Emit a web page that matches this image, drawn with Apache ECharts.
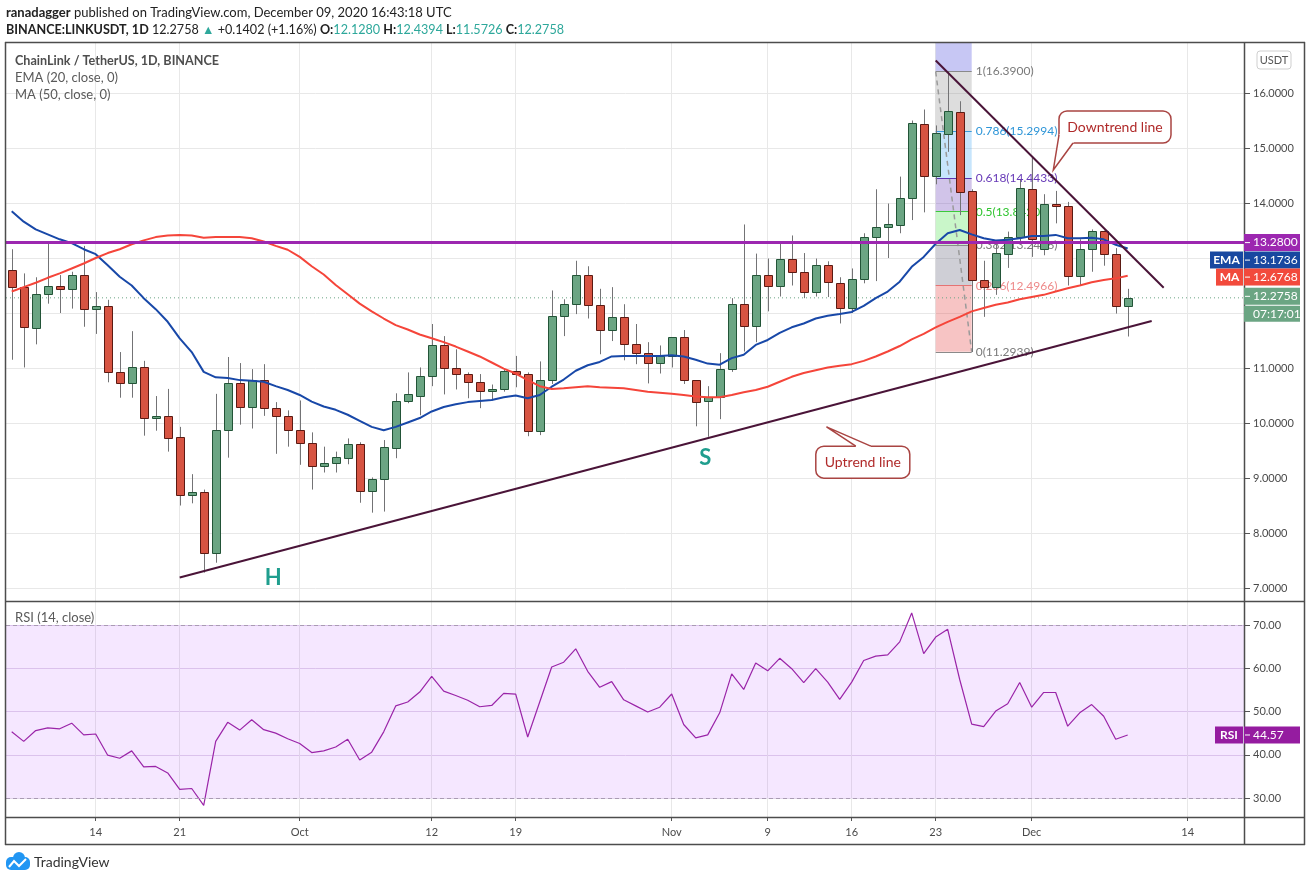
<!DOCTYPE html>
<html lang="en">
<head>
<meta charset="UTF-8">
<title>ChainLink / TetherUS, 1D</title>
<script src="https://cdn.jsdelivr.net/npm/echarts@6/dist/echarts.min.js"></script>
<style>
html, body { margin: 0; padding: 0; background: #fff; }
#chart { width: 1311px; height: 881px; }
</style>
</head>
<body>
<div id="chart"></div>
<script>
// daily candles, 2020-09-07 .. 2020-12-09
var startDate = '2020-09-07';
var opens = [12.79, 12.47, 11.72, 12.34, 12.49, 12.43, 12.70, 12.07, 12.12, 10.92, 10.72, 11.01, 10.09, 10.12, 9.74, 8.70, 8.74, 7.63, 9.87, 10.72, 10.30, 10.79, 10.27, 10.12,
  9.87, 9.63, 9.21, 9.27, 9.37, 9.62, 8.76, 8.98, 9.54, 10.40, 10.50, 10.85, 11.41, 11.00, 10.89, 10.74, 10.58, 10.61, 10.94, 10.90, 9.85, 10.78, 11.94, 12.16, 12.69, 12.14, 11.70, 11.92, 11.43, 11.27, 11.09,
  11.21, 11.56, 10.78, 10.40, 10.47, 10.98, 12.16, 11.76, 12.70, 12.50, 12.99, 12.74, 12.39, 12.87, 12.54, 12.10, 12.61, 13.39, 13.56, 13.60, 14.09, 15.43, 14.50, 15.25, 15.65, 14.21, 12.60, 12.48, 13.07, 13.38,
  14.25, 13.16, 13.98, 13.95, 12.67, 13.16, 13.50, 13.07, 12.128];
var closes = [12.47, 11.74, 12.34, 12.49, 12.43, 12.70, 12.07, 12.12, 10.92, 10.72, 11.01, 10.09, 10.12, 9.72, 8.70, 8.74, 7.63, 9.87, 10.72, 10.30, 10.79, 10.28, 10.12, 9.87,
  9.63, 9.21, 9.27, 9.39, 9.61, 8.76, 8.98, 9.56, 10.40, 10.52, 10.85, 11.41, 11.00, 10.89, 10.74, 10.58, 10.61, 10.94, 10.90, 9.85, 10.78, 11.94, 12.16, 12.69, 12.14, 11.70, 11.92, 11.43, 11.27, 11.09, 11.21,
  11.56, 10.78, 10.38, 10.47, 10.98, 12.16, 11.76, 12.70, 12.50, 12.99, 12.74, 12.39, 12.87, 12.56, 12.10, 12.61, 13.39, 13.56, 13.61, 14.09, 15.45, 14.50, 15.27, 15.67, 14.20, 12.60, 12.48, 13.09, 13.38, 14.27,
  13.34, 13.98, 13.95, 12.67, 13.16, 13.50, 13.07, 12.12, 12.2758];
var highs = [13.16, 12.72, 12.65, 13.28, 12.69, 12.75, 13.22, 12.38, 12.24, 11.29, 11.67, 11.13, 10.49, 10.62, 9.93, 9.07, 8.79, 10.53, 11.20, 11.09, 10.98, 11.07, 10.38, 10.23,
  10.41, 9.83, 9.57, 9.48, 9.72, 9.65, 9.01, 9.69, 10.54, 10.92, 11.01, 11.80, 11.58, 11.34, 10.92, 10.89, 10.70, 10.98, 11.22, 10.92, 11.12, 12.41, 12.25, 12.95, 12.85, 12.44, 12.47, 12.16, 11.80, 11.47, 11.41,
  11.56, 11.69, 10.78, 10.67, 11.27, 12.27, 13.61, 13.08, 12.99, 13.27, 13.41, 13.09, 12.99, 12.94, 12.65, 12.81, 13.45, 14.25, 13.99, 14.48, 15.50, 15.70, 15.41, 16.39, 15.85, 14.25, 12.95, 13.25, 13.48, 14.42,
  14.83, 14.16, 14.22, 14.02, 13.34, 13.52, 13.50, 13.18, 12.4394];
var lows = [11.15, 11.01, 11.43, 12.17, 12.00, 12.08, 11.75, 11.62, 10.74, 10.46, 10.46, 9.77, 9.86, 9.48, 8.50, 8.54, 7.28, 7.46, 9.37, 9.97, 9.90, 10.13, 9.44, 9.57,
  9.24, 8.79, 9.10, 9.10, 9.25, 8.55, 8.37, 8.39, 9.36, 10.36, 10.14, 10.67, 10.52, 10.61, 10.45, 10.27, 10.41, 10.57, 10.65, 9.76, 9.78, 10.71, 11.58, 11.98, 11.90, 11.25, 11.49, 11.14, 11.07, 10.72, 10.90,
  11.01, 10.71, 9.94, 9.75, 10.07, 10.93, 11.30, 11.47, 12.03, 12.30, 12.50, 12.27, 12.30, 12.29, 11.81, 12.00, 12.54, 12.58, 13.00, 13.45, 13.69, 13.83, 14.34, 14.93, 13.78, 11.29, 11.93, 12.33, 12.82, 13.30,
  13.02, 13.05, 13.63, 12.50, 12.50, 12.75, 12.86, 11.99, 11.5726];
// EMA (20, close) and MA (50, close)
var ema20 = [13.85, 13.66, 13.52, 13.43, 13.34, 13.27, 13.16, 13.07, 12.87, 12.66, 12.50, 12.27, 12.07, 11.84, 11.54, 11.29, 10.93, 10.83, 10.82, 10.78, 10.77, 10.75, 10.67, 10.60,
  10.51, 10.39, 10.30, 10.24, 10.15, 10.04, 9.93, 9.87, 9.93, 10.01, 10.09, 10.21, 10.29, 10.34, 10.38, 10.40, 10.42, 10.47, 10.50, 10.45, 10.51, 10.66, 10.79, 10.95, 11.05, 11.11, 11.21, 11.22, 11.22, 11.22, 11.22,
  11.23, 11.21, 11.15, 11.08, 11.06, 11.18, 11.24, 11.42, 11.51, 11.64, 11.74, 11.81, 11.90, 11.95, 11.98, 12.02, 12.13, 12.27, 12.39, 12.57, 12.84, 13.02, 13.26, 13.45, 13.51, 13.43, 13.36, 13.32, 13.33, 13.36,
  13.40, 13.40, 13.42, 13.36, 13.36, 13.37, 13.34, 13.24, 13.1736];
var ma50 = [12.39, 12.47, 12.55, 12.64, 12.72, 12.81, 12.90, 13.00, 13.09, 13.16, 13.25, 13.32, 13.38, 13.41, 13.42, 13.41, 13.37, 13.38, 13.38, 13.38, 13.36, 13.30, 13.22, 13.15,
  13.02, 12.85, 12.70, 12.51, 12.34, 12.17, 12.03, 11.90, 11.78, 11.70, 11.61, 11.54, 11.47, 11.39, 11.30, 11.21, 11.10, 10.99, 10.90, 10.78, 10.67, 10.62, 10.63, 10.65, 10.67, 10.65, 10.64, 10.63, 10.60, 10.57, 10.55,
  10.53, 10.51, 10.48, 10.47, 10.47, 10.51, 10.56, 10.60, 10.66, 10.75, 10.84, 10.91, 10.96, 11.01, 11.04, 11.07, 11.13, 11.21, 11.30, 11.40, 11.52, 11.62, 11.74, 11.84, 11.93, 12.03, 12.09, 12.15, 12.19, 12.25,
  12.29, 12.33, 12.39, 12.45, 12.50, 12.56, 12.60, 12.63, 12.6768];
// RSI (14, close)
var rsi14 = [45.3, 43.1, 45.6, 46.2, 46.0, 47.3, 44.6, 44.8, 39.9, 39.2, 40.9, 37.2, 37.3, 35.8, 32.0, 32.2, 28.3, 43.1, 47.5, 45.7, 48.1, 45.8, 45.0, 43.7,
  42.6, 40.5, 40.9, 41.8, 43.6, 38.8, 40.6, 45.3, 51.3, 52.2, 54.5, 58.1, 54.7, 53.7, 52.6, 51.1, 51.4, 54.2, 54.0, 44.1, 52.2, 60.3, 61.4, 64.5, 59.3, 55.6, 56.9, 52.7, 51.3, 49.9, 51.0,
  54.05, 47.0, 43.9, 44.6, 49.7, 58.7, 55.1, 61.2, 59.4, 62.3, 59.9, 56.7, 59.9, 56.8, 52.8, 56.8, 61.8, 62.8, 63.1, 66.1, 72.8, 63.4, 67.2, 69.0, 57.4, 47.1, 46.5, 50.1, 51.8, 56.7,
  51.0, 54.4, 54.4, 46.6, 49.7, 51.6, 48.9, 43.6, 44.57];

var xTickDates = ['2020-09-14', '2020-09-21', '2020-10-01', '2020-10-12', '2020-10-19', '2020-11-01', '2020-11-09', '2020-11-16', '2020-11-23', '2020-12-01', '2020-12-14'];
var xTickLabels = ['14', '21', 'Oct', '12', '19', 'Nov', '9', '16', '23', 'Dec', '14'];
var priceTicks = [7, 8, 9, 10, 11, 12, 13, 14, 15, 16];
var rsiTicks = [30, 40, 50, 60, 70];

// drawings
var resistance = 13.28;
var uptrend = [['2020-09-21', 7.19], ['2020-12-11', 11.855]];
var downtrend = [['2020-11-23', 16.59], ['2020-12-12', 12.46]];
var fibFrom = '2020-11-23', fibTo = '2020-11-26';
var fibRatios = ['1', '0.786', '0.618', '0.5', '0.382', '0.236', '0'];
var fibPrices = [16.39, 15.2994, 14.4433, 13.8420, 13.2406, 12.4966, 11.2939];
var lastPrice = 12.2758, lastEma = 13.1736, lastMa = 12.6768, lastRsi = 44.57;

var FONT = 'Lato, "Noto Sans", sans-serif';
var xMin = -0.475, xMax = 102.775;
var yMin = 6.764, yMax = 16.909;
var rMin = 25.61, rMax = 75.32;

var t0 = Date.UTC(2020, 8, 7);
function dayIndex(s) {
  var a = s.split('-');
  return (Date.UTC(+a[0], +a[1] - 1, +a[2]) - t0) / 86400000;
}
var tickIdx = xTickDates.map(dayIndex);
var candleData = opens.map(function (o, i) { return [i, o, closes[i], lows[i], highs[i]]; });
var emaData = ema20.map(function (v, i) { return [i, v]; });
var maData = ma50.map(function (v, i) { return [i, v]; });
var rsiData = rsi14.map(function (v, i) { return [i, v]; });
var f0 = dayIndex(fibFrom), f1 = dayIndex(fibTo);

var fibLine = ['#8a8a8a', '#3a9ad9', '#5e35b1', '#3cc83c', '#8a8a8a', '#e57373', '#8a8a8a'];
var fibText = ['#7a7a7a', '#2f96d8', '#673ab7', '#2fc42f', '#7a7a7a', '#ee8a8a', '#7a7a7a'];
var fibFill = ['rgba(120,120,120,0.25)', 'rgba(33,150,243,0.25)', 'rgba(103,58,183,0.3)', 'rgba(40,220,40,0.25)', 'rgba(110,110,130,0.33)', 'rgba(230,60,60,0.3)'];

var fibAreas = [[{ coord: [f0, fibPrices[0]], itemStyle: { color: 'rgba(70,70,220,0.3)' } }, { coord: [f1, yMax] }]];
for (var k = 0; k < fibPrices.length - 1; k++) {
  fibAreas.push([{ coord: [f0, fibPrices[k]], itemStyle: { color: fibFill[k] } }, { coord: [f1, fibPrices[k + 1]] }]);
}
var fibLevels = fibPrices.map(function (p, k) {
  return [{ coord: [f0, p], lineStyle: { color: fibLine[k] },
            label: { color: fibText[k], formatter: fibRatios[k] + '(' + p.toFixed(4) + ')' } },
          { coord: [f1, p] }];
});

function renderCandle(params, api) {
  var x = api.value(0), o = api.value(1), c = api.value(2), l = api.value(3), h = api.value(4);
  var pO = api.coord([x, o]), pC = api.coord([x, c]);
  var pL = api.coord([x, l]), pH = api.coord([x, h]);
  var up = c >= o;
  var xc = Math.round(pO[0]) + 0.5;
  var top = Math.round(Math.min(pO[1], pC[1])) + 0.5;
  var bot = Math.round(Math.max(pO[1], pC[1])) + 0.5;
  if (bot - top < 1) bot = top + 1;
  return {
    type: 'group',
    children: [
      { type: 'line', shape: { x1: xc, y1: pH[1], x2: xc, y2: pL[1] }, style: { stroke: '#737375', lineWidth: 1 } },
      { type: 'rect', shape: { x: xc - 4, y: top, width: 8, height: bot - top },
        style: { fill: up ? '#6ba583' : '#d75442', stroke: up ? '#225437' : '#5b1a13', lineWidth: 1 } }
    ]
  };
}

var gridLine = { show: true, lineStyle: { color: '#e8e8e8', width: 1 } };
var labelStyle = { color: '#4a4a4a', fontSize: 11, fontFamily: FONT };
var noLine = { show: false, onZero: false };

var chart = echarts.init(document.getElementById('chart'));
var option = {
  animation: false,
  backgroundColor: '#fff',
  grid: [
    { left: 6, right: 66, top: 43, height: 558 },
    { left: 6, right: 66, top: 602, height: 215 }
  ],
  xAxis: [
    { type: 'value', gridIndex: 0, min: xMin, max: xMax,
      axisLine: noLine, axisTick: { show: false, customValues: tickIdx },
      axisLabel: { show: false, customValues: tickIdx }, splitLine: gridLine },
    { type: 'value', gridIndex: 1, min: xMin, max: xMax,
      axisLine: noLine,
      axisTick: { show: true, length: 4, customValues: tickIdx, lineStyle: { color: '#555' } },
      axisLabel: Object.assign({ customValues: tickIdx, margin: 10,
        formatter: function (v) { var k = tickIdx.indexOf(Math.round(v)); return k >= 0 ? xTickLabels[k] : ''; } }, labelStyle),
      splitLine: gridLine }
  ],
  yAxis: [
    { type: 'value', gridIndex: 0, position: 'right', min: yMin, max: yMax,
      axisLine: noLine,
      axisTick: { show: true, length: 5, customValues: priceTicks, lineStyle: { color: '#555' } },
      axisLabel: Object.assign({ customValues: priceTicks, margin: 8,
        formatter: function (v) { return v.toFixed(4); } }, labelStyle),
      splitLine: gridLine },
    { type: 'value', gridIndex: 1, position: 'right', min: rMin, max: rMax,
      axisLine: noLine,
      axisTick: { show: true, length: 5, customValues: rsiTicks, lineStyle: { color: '#555' } },
      axisLabel: Object.assign({ customValues: rsiTicks, margin: 8,
        formatter: function (v) { return v.toFixed(2); } }, labelStyle),
      splitLine: { show: true, lineStyle: { color: '#e2d6ea', width: 1 } } }
  ],
  series: [
    { name: 'Fib', type: 'line', xAxisIndex: 0, yAxisIndex: 0, z: 1, silent: true,
      data: [[f0, fibPrices[0]], [f1, fibPrices[fibPrices.length - 1]]], symbol: 'none',
      lineStyle: { color: '#9a9a9a', width: 1.5, type: [5, 4] },
      markArea: { silent: true, z: 1, data: fibAreas },
      markLine: { silent: true, z: 2, symbol: ['none', 'none'],
        lineStyle: { width: 1, type: 'solid' },
        label: { show: true, position: 'end', distance: 4, fontSize: 12, fontFamily: FONT },
        data: fibLevels } },
    { name: 'Price', type: 'custom', xAxisIndex: 0, yAxisIndex: 0, z: 3,
      renderItem: renderCandle, encode: { x: 0, y: [1, 2, 3, 4] }, data: candleData },
    { name: 'Last', type: 'line', xAxisIndex: 0, yAxisIndex: 0, z: 2, silent: true, symbol: 'none',
      data: [[xMin, lastPrice], [xMax, lastPrice]], lineStyle: { color: '#6ba583', width: 1, type: [1, 3] } },
    { name: 'EMA', type: 'line', xAxisIndex: 0, yAxisIndex: 0, z: 4, symbol: 'none', silent: true,
      data: emaData, lineStyle: { color: '#1848a8', width: 2 } },
    { name: 'MA', type: 'line', xAxisIndex: 0, yAxisIndex: 0, z: 4, symbol: 'none', silent: true,
      data: maData, lineStyle: { color: '#f5453a', width: 2 } },
    { name: 'Resistance', type: 'line', xAxisIndex: 0, yAxisIndex: 0, z: 5, symbol: 'none', silent: true,
      data: [[xMin, resistance], [xMax, resistance]], lineStyle: { color: '#9c27b0', width: 3 } },
    { name: 'Uptrend', type: 'line', xAxisIndex: 0, yAxisIndex: 0, z: 6, symbol: 'none', silent: true,
      data: uptrend.map(function (p) { return [dayIndex(p[0]), p[1]]; }), lineStyle: { color: '#4a1438', width: 2 } },
    { name: 'Downtrend', type: 'line', xAxisIndex: 0, yAxisIndex: 0, z: 6, symbol: 'none', silent: true,
      data: downtrend.map(function (p) { return [dayIndex(p[0]), p[1]]; }), lineStyle: { color: '#4a1438', width: 2 } },
    { name: 'RSI', type: 'line', xAxisIndex: 1, yAxisIndex: 1, z: 3, symbol: 'none', silent: true,
      data: rsiData, lineStyle: { color: '#9a24a8', width: 1.2 },
      markArea: { silent: true, itemStyle: { color: 'rgba(153,21,255,0.1)' }, data: [[{ yAxis: 70 }, { yAxis: 30 }]] },
      markLine: { silent: true, symbol: ['none', 'none'], label: { show: false },
        lineStyle: { color: '#a99bb3', width: 1, type: [4, 3] }, data: [{ yAxis: 70 }, { yAxis: 30 }] } }
  ]
};
chart.setOption(option);

// annotations, frame and price tags
var g = [];
function px(i, p) { return chart.convertToPixel({ xAxisIndex: 0, yAxisIndex: 0 }, [i, p]); }
function pyRsi(v) { return chart.convertToPixel({ xAxisIndex: 1, yAxisIndex: 1 }, [0, v])[1]; }
function text(x, y, s, st, z) {
  g.push({ type: 'text', x: x, y: y, z: z || 60,
    style: Object.assign({ text: s, fontFamily: FONT, fontSize: 13, fill: '#555', align: 'left', verticalAlign: 'middle' }, st || {}) });
}
function seg(x1, y1, x2, y2, color, w, z) {
  g.push({ type: 'line', z: z || 70, shape: { x1: x1, y1: y1, x2: x2, y2: y2 }, style: { stroke: color, lineWidth: w } });
}
function box(x, y, w, h, fill, z) {
  g.push({ type: 'rect', z: z || 80, shape: { x: x, y: y, width: w, height: h }, style: { fill: fill } });
}
function tag(cy, fill, value, label, labelX) {
  var h = 17;
  if (label) {
    box(labelX, cy - h / 2, 1243 - labelX, h, fill);
    text((labelX + 1243) / 2, cy, label, { fill: '#fff', fontSize: 12, fontWeight: 'bold', align: 'center' }, 81);
  }
  box(1244, cy - h / 2, 56, h, fill);
  seg(1245, cy, 1250, cy, '#fff', 1, 81);
  text(1253, cy, value, { fill: '#fff', fontSize: 12 }, 81);
}
function callout(tip, b, b1, b2, inward, label) {
  var p1 = [tip[0] + b1[0], tip[1] + b1[1]], p2 = [tip[0] + b2[0], tip[1] + b2[1]];
  var stroke = '#a94442';
  g.push({ type: 'rect', z: 50, shape: { x: tip[0] + b[0], y: tip[1] + b[1], width: b[2], height: b[3], r: 8 },
    style: { fill: '#fff', stroke: stroke, lineWidth: 1.5 } });
  g.push({ type: 'polygon', z: 51, shape: { points: [p1, tip, p2, [p2[0] + inward[0], p2[1] + inward[1]], [p1[0] + inward[0], p1[1] + inward[1]]] },
    style: { fill: '#fff' } });
  g.push({ type: 'polyline', z: 52, shape: { points: [p1, tip, p2] }, style: { stroke: stroke, lineWidth: 1.5, fill: null } });
  text(tip[0] + b[0] + b[2] / 2, tip[1] + b[1] + b[3] / 2, label, { fill: '#b02a2a', fontSize: 14, align: 'center' }, 53);
}

// header
text(6, 13, '{b|ranadagger}{n| published on TradingView.com, December 09, 2020 16:43:18 UTC}', {
  rich: { b: { fontWeight: 'bold', fill: '#222', fontSize: 13, fontFamily: FONT }, n: { fill: '#222', fontSize: 13, fontFamily: FONT } } });
text(6, 30, '{b|BINANCE:LINKUSDT, 1D}{n| 12.2758 }{t|\u25B2}{n| +0.1402 (+1.16%) }{b|O:}{t|12.1280}{b| H:}{t|12.4394}{b| L:}{t|11.5726}{b| C:}{t|12.2758}', {
  rich: { b: { fontWeight: 'bold', fill: '#222', fontSize: 12.6, fontFamily: FONT },
          n: { fill: '#222', fontSize: 12.6, fontFamily: FONT },
          t: { fill: '#2ea89b', fontSize: 12.6, fontFamily: FONT } } });

// legends
text(15, 61, 'ChainLink / TetherUS, 1D, BINANCE', { fill: '#4e4e4e', fontWeight: 'bold', fontSize: 12.6 });
text(15, 78, 'EMA (20, close, 0)', { fill: '#5a5a5a' });
text(15, 95, 'MA (50, close, 0)', { fill: '#5a5a5a' });
text(15, 618, 'RSI (14, close)', { fill: '#5a5a5a' });

// head & shoulder marks
var pH = px(21.8, 7.18), pS = px(57.8, 9.36);
text(pH[0], pH[1], 'H', { fill: '#1f9e8e', fontSize: 22, fontWeight: 'bold', align: 'center' });
text(pS[0], pS[1], 'S', { fill: '#1f9e8e', fontSize: 22, fontWeight: 'bold', align: 'center' });

// callouts
callout(px(86.8, 14.6), [5.7, -59, 112, 32], [5.7, -35], [19.7, -27], [4, -4], 'Downtrend line');
callout(px(67.9, 9.93), [-10.7, 19.3, 94, 32], [29.3, 19.3], [44.3, 19.3], [0, 4], 'Uptrend line');

// frame
var frame = '#4d4d4d';
seg(5, 42.5, 1305, 42.5, frame, 1.5);
seg(5.5, 42, 5.5, 845, frame, 1.5);
seg(1304.5, 42, 1304.5, 845, frame, 1.5);
seg(5, 844.5, 1305, 844.5, frame, 1.5);
seg(5, 601.5, 1305, 601.5, frame, 1.5);
seg(5, 817.5, 1305, 817.5, frame, 1.5);
seg(1244.5, 42, 1244.5, 845, frame, 1.5);

// USDT button
g.push({ type: 'rect', z: 60, shape: { x: 1257, y: 51, width: 34, height: 18, r: 3 }, style: { fill: '#fff', stroke: '#cfcfcf', lineWidth: 1 } });
text(1274, 60, 'USDT', { fontSize: 11, fill: '#555', align: 'center' });

// price tags
var yRes = px(0, resistance)[1];
var yEma = Math.max(px(0, lastEma)[1], yRes + 17.5);
var yMa = Math.max(px(0, lastMa)[1], yEma + 17);
var yLast = px(0, lastPrice)[1] - 1.5;
tag(yRes, '#9c27b0', resistance.toFixed(4));
tag(yEma, '#1848a0', lastEma.toFixed(4), 'EMA', 1210);
tag(yMa, '#f24a3c', lastMa.toFixed(4), 'MA', 1216);
tag(yLast, '#6ba583', lastPrice.toFixed(4));
box(1244, yLast + 9.5, 56, 16, '#6ba583');
text(1253, yLast + 17.5, '07:17:01', { fill: '#fff', fontSize: 12 }, 81);
tag(pyRsi(lastRsi), '#951ca0', lastRsi.toFixed(2), 'RSI', 1215);

// TradingView mark
g.push({ type: 'circle', z: 60, shape: { cx: 19, cy: 858, r: 6 }, style: { fill: '#2196f3' } });
g.push({ type: 'rect', z: 60, shape: { x: 6, y: 857, width: 24, height: 13, r: 5 }, style: { fill: '#2196f3' } });
g.push({ type: 'polyline', z: 61, shape: { points: [[9, 867], [14, 861], [19, 866], [26, 859]] }, style: { stroke: '#fff', lineWidth: 2, fill: null } });
text(34, 862, 'TradingView', { fontSize: 14, fill: '#333' });

chart.setOption({ graphic: { elements: g } });
</script>
</body>
</html>
